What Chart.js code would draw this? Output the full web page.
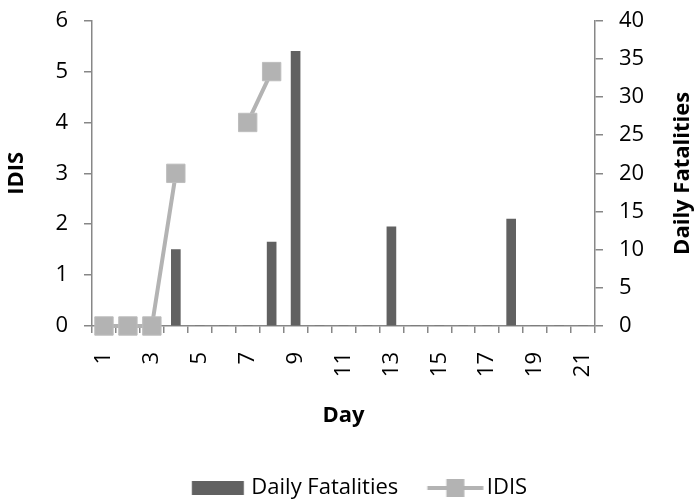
<!DOCTYPE html>
<html>
<head>
<meta charset="utf-8">
<script src="https://cdn.jsdelivr.net/npm/chart.js@4/dist/chart.umd.min.js"></script>
<style>
  html, body { margin: 0; padding: 0; background: #fff; }
  #wrap { width: 694px; height: 502px; position: relative; }
</style>
</head>
<body>
<div id="wrap"><canvas id="chart"></canvas></div>
<script>
// Data
const days = ['1', '2', '3', '4', '5', '6', '7', '8', '9', '10', '11', '12', '13', '14', '15', '16', '17', '18', '19', '20', '21'];
const dailyFatalities = [0, 0, 0, 10, 0, 0, 0, 11, 36, 0, 0, 0, 13, 0, 0, 0, 0, 14, 0, 0, 0];
const idis = [0, 0, 0, 3, null, null, 4, 5, null, null, null, null, null, null, null, null, null, null, null, null, null];
const idisTicks = [0, 1, 2, 3, 4, 5, 6];
const fatalityTicks = [0, 5, 10, 15, 20, 25, 30, 35, 40];

const BAR_COLOR = '#616161';
const LINE_COLOR = '#B3B3B3';
const AXIS_COLOR = '#878787';
const FONT = 'Open Sans';
const FS = 22;
const BOX_W = 73.5;

Chart.defaults.font.family = FONT;
Chart.defaults.color = '#000';

// legend swatches are canvases; Chart.js centres them on BOX_W / 2
function legendSwatch(left, right, draw) {
    const half = Math.max(BOX_W / 2 - left, right - BOX_W / 2) + 1;
    const c = document.createElement('canvas');
    c.width = Math.ceil(half * 2);
    c.height = 22;
    const g = c.getContext('2d');
    g.translate(c.width / 2 - BOX_W / 2, 11);
    draw(g);
    return c;
}

const barSwatch = legendSwatch(BOX_W + 3.5 - 52, BOX_W + 3.5, g => {
    g.fillStyle = BAR_COLOR;
    g.fillRect(BOX_W + 3.5 - 52, -7, 52, 14);
});

const lineSwatch = legendSwatch(BOX_W + 7.5 - 56, BOX_W + 7.5, g => {
    const x0 = BOX_W + 7.5 - 56;
    g.strokeStyle = LINE_COLOR;
    g.lineWidth = 4;
    g.beginPath();
    g.moveTo(x0, 0);
    g.lineTo(x0 + 56, 0);
    g.stroke();
    g.fillStyle = LINE_COLOR;
    g.fillRect(x0 + 28 - 9, -9, 18, 18);
});

// right axis title reads bottom-to-top like the left one
const rightTitle = {
    id: 'rightTitle',
    afterDraw(chart) {
        const { ctx, chartArea } = chart;
        const scale = chart.scales.y1;
        ctx.save();
        ctx.translate(scale.right - 11, (chartArea.top + chartArea.bottom) / 2);
        ctx.rotate(-Math.PI / 2);
        ctx.font = 'bold ' + FS + 'px ' + FONT;
        ctx.fillStyle = '#000';
        ctx.textAlign = 'center';
        ctx.textBaseline = 'middle';
        ctx.fillText('Daily Fatalities', 0, 0);
        ctx.restore();
    }
};

const axisGrid = { display: true, drawOnChartArea: false, drawTicks: true, tickLength: 8, color: AXIS_COLOR, lineWidth: 1.5 };
const axisBorder = { display: true, color: AXIS_COLOR, width: 1.5 };

function fixY(width) {
    return scale => {
        scale.width = width;
        scale.paddingTop = 0;
        scale.paddingBottom = 0;
    };
}

new Chart(document.getElementById('chart'), {
    type: 'bar',
    data: {
        labels: days,
        datasets: [
            {
                type: 'bar',
                label: 'Daily Fatalities',
                data: dailyFatalities,
                backgroundColor: BAR_COLOR,
                barThickness: 9,
                yAxisID: 'y1',
                order: 2
            },
            {
                type: 'line',
                label: 'IDIS',
                data: idis,
                borderColor: LINE_COLOR,
                borderWidth: 4,
                backgroundColor: LINE_COLOR,
                pointStyle: 'rect',
                pointRadius: 13,
                pointBorderWidth: 1,
                pointBorderColor: '#BDBDBD',
                pointBackgroundColor: LINE_COLOR,
                spanGaps: false,
                clip: false,
                yAxisID: 'y',
                order: 1
            }
        ]
    },
    options: {
        responsive: true,
        maintainAspectRatio: false,
        animation: false,
        layout: { padding: { top: 20.7, left: 0, right: 0, bottom: 0 } },
        plugins: {
            tooltip: { enabled: false },
            legend: {
                position: 'bottom',
                maxHeight: 29,
                labels: {
                    usePointStyle: true,
                    pointStyleWidth: BOX_W,
                    boxHeight: FS,
                    padding: 4,
                    color: '#000',
                    font: { size: FS },
                    generateLabels: () => [
                        { text: 'Daily Fatalities', pointStyle: barSwatch, datasetIndex: 0, hidden: false, lineWidth: 0 },
                        { text: 'IDIS', pointStyle: lineSwatch, datasetIndex: 1, hidden: false, lineWidth: 0 }
                    ]
                }
            }
        },
        scales: {
            x: {
                offset: true,
                grid: { display: true, drawOnChartArea: false, drawTicks: true, tickLength: 7, color: AXIS_COLOR, lineWidth: 1.5, offset: true },
                border: axisBorder,
                ticks: {
                    autoSkip: false,
                    minRotation: 90,
                    maxRotation: 90,
                    padding: 19,
                    font: { size: FS },
                    callback: function (value, index) {
                        return index % 2 === 0 ? this.getLabelForValue(value) : '';
                    }
                },
                title: { display: true, text: 'Day', font: { size: FS, weight: 'bold' }, padding: { top: 4, bottom: 44 } },
                afterFit: scale => { scale.height = 147; }
            },
            y: {
                position: 'left',
                min: 0,
                max: 6,
                afterBuildTicks: scale => { scale.ticks = idisTicks.map(v => ({ value: v })); },
                grid: axisGrid,
                border: axisBorder,
                ticks: { padding: 16, font: { size: FS } },
                title: { display: true, text: 'IDIS', font: { size: FS, weight: 'bold' }, padding: { top: 4, bottom: 4 } },
                afterFit: fixY(92)
            },
            y1: {
                position: 'right',
                min: 0,
                max: 40,
                afterBuildTicks: scale => { scale.ticks = fatalityTicks.map(v => ({ value: v })); },
                grid: axisGrid,
                border: axisBorder,
                ticks: { padding: 16, font: { size: FS } },
                title: { display: false },
                afterFit: fixY(99)
            }
        }
    },
    plugins: [rightTitle]
});
</script>
</body>
</html>
